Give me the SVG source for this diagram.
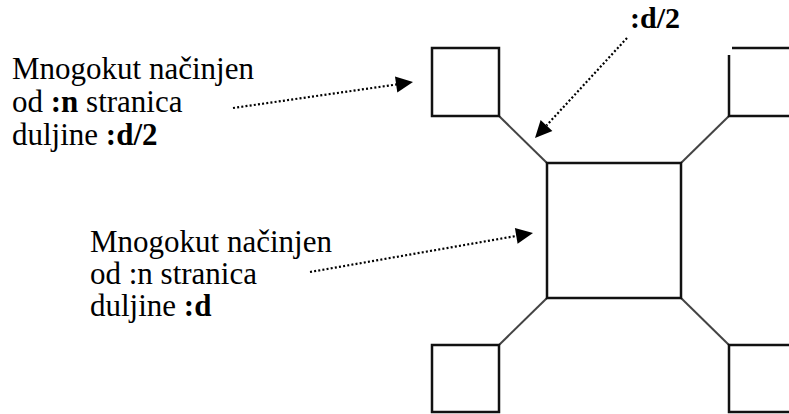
<svg xmlns="http://www.w3.org/2000/svg" width="789" height="414" viewBox="0 0 789 414">
<rect width="789" height="414" fill="#fff"/>
<g id="label1">
<text font-family="Liberation Serif" font-size="31" x="12" y="79">Mnogokut načinjen</text>
<text font-family="Liberation Serif" font-size="31" x="12" y="112">od <tspan font-weight="bold">:n</tspan> stranica</text>
<text font-family="Liberation Serif" font-size="31" x="12" y="145">duljine <tspan font-weight="bold">:d/2</tspan></text>
</g>
<g id="label2">
<text font-family="Liberation Serif" font-size="31" x="90" y="252">Mnogokut načinjen</text>
<text font-family="Liberation Serif" font-size="31" x="90" y="284">od :n stranica</text>
<text font-family="Liberation Serif" font-size="31" x="90" y="316">duljine <tspan font-weight="bold">:d</tspan></text>
</g>
<g id="label3"><text font-family="Liberation Serif" font-size="30" font-weight="bold" x="630" y="28">:d/2</text></g>
<g id="connectors">
<g stroke="#444" stroke-width="2" fill="none">
<line x1="499" y1="116" x2="547" y2="163"/>
<line x1="729" y1="116" x2="681" y2="163"/>
<line x1="547" y1="298" x2="499" y2="345"/>
<line x1="681" y1="298" x2="729" y2="345"/>
</g>
<g stroke="#000" stroke-width="2.2" stroke-dasharray="2 2.2" fill="none">
<line x1="233" y1="108" x2="397" y2="84.4"/>
<line x1="310" y1="272" x2="516" y2="236"/>
<line x1="627" y1="38" x2="546.5" y2="125.5"/>
</g>
<g fill="#000">
<polygon points="413,82 397.3,92.4 395,76.5"/>
<polygon points="533,233 517.6,243.8 514.9,228"/>
<polygon points="535,138 552.4,130.9 540.6,120.1"/>
</g>
</g>
<g fill="none" stroke="#111" stroke-width="2.5">
<g id="center"><rect x="547" y="163" width="134" height="135"/></g>
<g id="topleft"><rect x="432" y="48" width="67" height="68"/></g>
<g id="topright"><path d="M732,48 H800 M729,55 V116 H800"/></g>
<g id="bottomleft"><rect x="432" y="345" width="67" height="67"/></g>
<g id="bottomright"><rect x="729" y="345" width="80" height="67"/></g>
</g>
</svg>
